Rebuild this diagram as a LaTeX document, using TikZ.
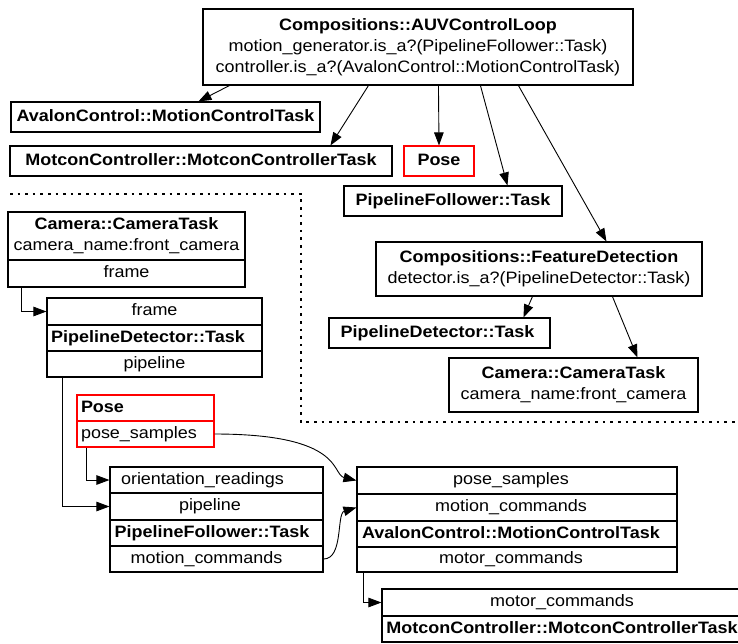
\documentclass[tikz,border=0pt]{standalone}
\usepackage{fontspec}
\setmainfont[FakeStretch=1.09]{Liberation Sans}
\usetikzlibrary{arrows.meta,calc}
\newcommand\dgfont{\fontsize{16.5}{21}\selectfont}
\definecolor{posered}{RGB}{255,0,0}
\begin{document}
\begin{tikzpicture}[x=1pt,y=-1pt,
  cell/.style={rectangle, draw=black, line width=1.1pt, inner sep=0pt,
    font=\dgfont, text height=12pt, text depth=3.5pt},
  boldcell/.style={cell, font=\dgfont\bfseries},
  multicell/.style={rectangle, draw=black, line width=1.1pt, inner sep=0pt,
    font=\dgfont, align=center},
  redbox/.style={draw=posered},
  leftcell/.style={inner xsep=4pt, text width=#1, align=left},
  wh/.style n args={2}{minimum width=#1pt, minimum height=#2pt},
  conn/.style={line width=0.9pt, -{Triangle[length=13pt,width=9.5pt]}},
  dots/.style={line width=2.6pt, dash pattern=on 2.6pt off 5pt}
]
\useasboundingbox (0,0) rectangle (738,643);

% composition tree
\node[multicell, wh={430}{76}] (auv) at (418,47)
  {\textbf{Compositions::AUVControlLoop}\\motion\_generator.is\_a?(PipelineFollower::Task)\\controller.is\_a?(AvalonControl::MotionControlTask)};
\node[boldcell, wh={309}{30}] (topac) at (165.5,117) {AvalonControl::MotionControlTask};
\node[boldcell, wh={382}{30}] (topmc) at (201,161) {MotconController::MotconControllerTask};
\node[boldcell, redbox, wh={70}{30}] (toppose) at (439,161) {Pose};
\node[boldcell, wh={218}{30}] (toppf) at (453,201) {PipelineFollower::Task};
\node[multicell, wh={326}{54}] (fd) at (539,269)
  {\textbf{Compositions::FeatureDetection}\\detector.is\_a?(PipelineDetector::Task)};
\node[boldcell, wh={221}{30}] (toppd) at (439.5,333) {\hspace*{-4pt}PipelineDetector::Task};
\node[multicell, wh={249}{54}] (topcam) at (573.5,385)
  {\textbf{Camera::CameraTask}\\camera\_name:front\_camera};

\draw[conn] ($(auv.south west)+(27,0)$) -- ($(topac.north west)+(188,0)$);
\draw[conn] ($(auv.south west)+(166,0)$) -- ($(topmc.north west)+(321,0)$);
\draw[conn] ($(auv.south west)+(236,0)$) -- (toppose.north);
\draw[conn] ($(auv.south west)+(278,0)$) -- ($(toppf.north west)+(164,0)$);
\draw[conn] ($(auv.south west)+(316,0)$) -- ($(fd.north west)+(231,0)$);
\draw[conn] ($(fd.south west)+(157,0)$) -- ($(toppd.north west)+(195,0)$);
\draw[conn] ($(fd.south west)+(237,0)$) -- ($(topcam.north west)+(189,0)$);

% cluster boundary
\draw[dots] (10,194) -- (301,194) -- (301,422) -- (742,422);

% data flow: camera
\node[multicell, wh={237}{48}] (camhead) at (126.5,236)
  {\textbf{Camera::CameraTask}\\camera\_name:front\_camera};
\node[cell, wh={237}{27}] (camframe) at (126.5,273.5) {frame};

% pipeline detector
\node[cell, wh={215}{27}] (pdframe) at (154.5,311.5) {frame};
\node[boldcell, wh={215}{26}] (pdname) at (154.5,338) {\hspace*{-13pt}PipelineDetector::Task};
\node[cell, wh={215}{26}] (pdpipe) at (154.5,364) {pipeline};

% pose
\node[boldcell, redbox, leftcell=129pt, wh={137}{26}] (posename) at (145.5,408) {Pose};
\node[cell, redbox, leftcell=129pt, wh={137}{26}] (posesamples) at (145.5,434) {pose\_samples};

% pipeline follower
\node[cell, wh={213}{26}] (pforient) at (216.5,480) {\hspace*{-28pt}orientation\_readings};
\node[cell, wh={213}{27}] (pfpipe) at (216.5,506.5) {\hspace*{-13pt}pipeline};
\node[boldcell, wh={213}{26}] (pfname) at (216.5,533) {\hspace*{-9pt}PipelineFollower::Task};
\node[cell, wh={213}{26}] (pfmotion) at (216.5,559) {\hspace*{-20pt}motion\_commands};

% motion controller
\node[cell, wh={320}{27}] (acpose) at (517,480.5) {\hspace*{-12pt}pose\_samples};
\node[cell, wh={320}{27}] (acmotion) at (517,507.5) {\hspace*{-12pt}motion\_commands};
\node[boldcell, wh={320}{26}] (acname) at (517,534) {\hspace*{-12pt}AvalonControl::MotionControlTask};
\node[cell, wh={320}{25}] (acmotor) at (517,559.5) {\hspace*{-12pt}motor\_commands};

% motcon controller
\node[cell, wh={360}{27}] (mcmotor) at (562,602.5) {motor\_commands};
\node[boldcell, wh={360}{26}] (mcname) at (562,629) {MotconController::MotconControllerTask};

% port connections
\draw[conn] ($(camframe.south west)+(14,0)$) |- (pdframe.west);
\draw[conn] ($(pdpipe.south west)+(16,0)$) |- (pfpipe.west);
\draw[conn] ($(posesamples.south west)+(10,0)$) |- (pforient.west);
\draw[conn] ($(acmotor.south west)+(7,0)$) |- (mcmotor.west);
\draw[conn] (posesamples.east) .. controls +(130,0) and +(-25,-6) .. (acpose.west);
\draw[conn] (pfmotion.east) .. controls +(20,0) and +(-20,6) .. (acmotion.west);
\end{tikzpicture}
\end{document}
